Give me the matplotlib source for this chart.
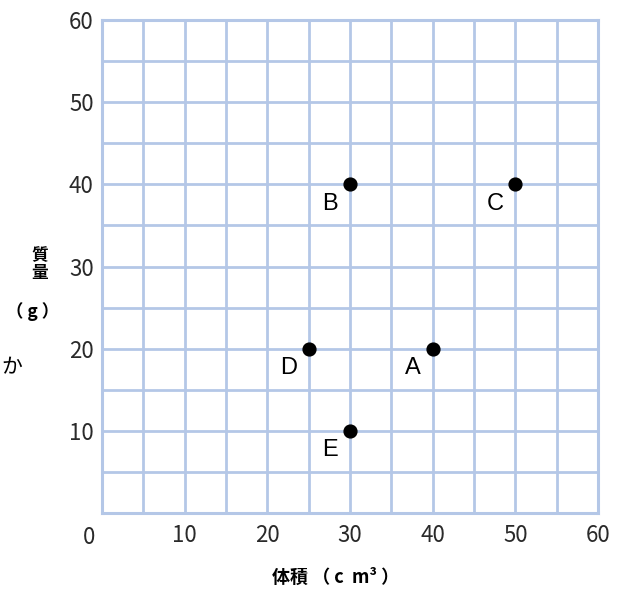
import numpy as np
import matplotlib.pyplot as plt

plt.rcParams['font.family'] = ['Noto Sans CJK JP', 'DejaVu Sans']

# data
names = ['A', 'B', 'C', 'D', 'E']
volume = [40, 30, 50, 25, 30]   # cm3
mass = [20, 40, 40, 20, 10]     # g
tick_vals = [10, 20, 30, 40, 50, 60]

grid_color = '#b4c7e7'

fig = plt.figure(figsize=(6.18, 5.90), dpi=100)
ax = fig.add_axes([0.165, 0.1305, 0.8026, 0.8356])

ax.set_xlim(0, 60)
ax.set_ylim(0, 60)

# grid every 5 units
for v in np.arange(5, 60, 5):
    ax.axvline(v, color=grid_color, lw=2.0, zorder=1)
    ax.axhline(v, color=grid_color, lw=2.0, zorder=1)
for s in ax.spines.values():
    s.set_color(grid_color)
    s.set_linewidth(2.2)

ax.set_xticks(tick_vals)
ax.set_yticks(tick_vals)
ax.tick_params(length=0, labelsize=16, labelcolor='#2a2a2a')
ax.tick_params(axis='x', pad=8)
ax.tick_params(axis='y', pad=6)

# origin label
ax.annotate('0', xy=(0, 0), xytext=(-9, -17.5), textcoords='offset points',
            ha='center', va='center', fontsize=16, color='#2a2a2a',
            annotation_clip=False)

ax.scatter(volume, mass, s=85, color='black', zorder=3, clip_on=False)
for n, x, y in zip(names, volume, mass):
    ax.annotate(n, xy=(x, y), xytext=(-14.5, -14), textcoords='offset points',
                ha='center', va='center', fontsize=17, color='black',
                family='Liberation Sans')

# axis titles
fig.text(336 / 618, 1 - 577 / 590, '体積 （ c  m³ ）', ha='center', va='center',
         fontsize=13, fontweight='bold')
fig.text(40 / 618, 1 - 264 / 590, '質\n量', ha='center', va='center',
         fontsize=12, fontweight='bold', linespacing=0.95)
fig.text(33 / 618, 1 - 312 / 590, '（ g ）', ha='center', va='center',
         fontsize=12.5, fontweight='bold')
fig.text(1 / 618, 1 - 367 / 590, 'か', ha='left', va='center', fontsize=15)

fig.savefig('out.png', dpi=100)
